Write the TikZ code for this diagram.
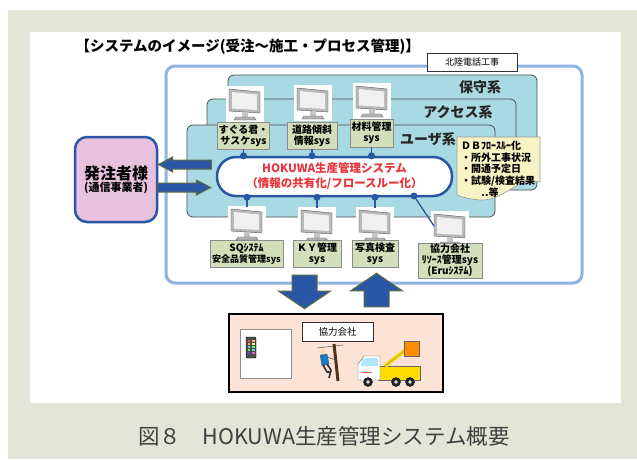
\documentclass[tikz,border=0pt]{standalone}
\usepackage{fontspec}
\setmainfont{Noto Sans CJK JP}
\usetikzlibrary{shapes.arrows}

\definecolor{paper}{HTML}{E3E5D6}
\definecolor{frameblue}{HTML}{8DB4E2}
\definecolor{panelteal}{HTML}{A9D9E2}
\definecolor{labelgreen}{HTML}{D3DEBA}
\definecolor{sysblue}{HTML}{2A57A5}
\definecolor{sysred}{HTML}{E8343A}
\definecolor{notey}{HTML}{F6F4C4}
\definecolor{clientpink}{HTML}{E7C1DD}
\definecolor{arrowolive}{HTML}{5F6B3C}
\definecolor{partnerpeach}{HTML}{FBE3D5}

\tikzset{
  panel/.style={fill=panelteal, draw=black!70, line width=0.8pt, rounded corners=6pt},
  panellabel/.style={font=\bfseries\fontsize{14}{14}\selectfont, text=black!85},
  syslabel/.style={fill=labelgreen, draw=black!45, line width=0.6pt, inner sep=1pt,
    align=center, font=\bfseries\fontsize{10}{11}\selectfont},
  sysdot/.style={circle, fill=sysblue, inner sep=0pt, minimum size=7pt},
  syslink/.style={sysblue, line width=1.3pt},
  bigarrow/.style={single arrow, fill=sysblue, draw=arrowolive, line width=1pt,
    single arrow head indent=0pt},
  % a flat screen on its stand, origin at the top middle
  monitor/.pic={
    \fill[white] (-19,0) rectangle (19,36);
    \filldraw[fill=gray!55, draw=gray!70!black, line width=0.4pt]
      (-16,3) -- (15,6) -- (15,27) -- (-16,25) -- cycle;
    \fill[gray!12] (-13,6) -- (12,8.5) -- (12,24) -- (-13,22.5) -- cycle;
    \fill[gray!45] (-3,26) rectangle (3,31);
    \filldraw[fill=gray!60, draw=gray!70!black, line width=0.3pt]
      (-9,31) -- (9,31) -- (11,34) -- (-11,34) -- cycle;
  }
}

\begin{document}
\begin{tikzpicture}[x=1pt, y=-1pt]
\useasboundingbox (0,0) rectangle (637,459);

% Paper and white panel
\fill[paper] (8,10) rectangle (637,459);
\fill[white] (30,32) rectangle (621,403);

% Heading and caption
\node[anchor=west, font=\bfseries\fontsize{14.5}{15}\selectfont] (heading) at (72,47)
  {【システムのイメージ(受注～施工・プロセス管理)】};
\node[font=\fontsize{21.5}{22}\selectfont, text=black!75] (caption) at (324,436)
  {図８　HOKUWA生産管理システム概要};

% Company frame
\draw[frameblue, line width=3pt, rounded corners=9pt] (166,66) rectangle (582,283);
\node[draw=black!80, fill=white, line width=0.7pt, minimum width=90pt, minimum height=18pt,
  font=\fontsize{9}{9}\selectfont] (company) at (472,62) {北陸電話工事};

% Maintenance, access and user layers
\draw[panel] (228,75) rectangle (537,190);
\draw[panel] (207,99) rectangle (516,181);
\draw[panel] (187,125) rectangle (495,217);
\node[panellabel] (hoshu) at (480,87) {保守系};
\node[panellabel] (access) at (458,112) {アクセス系};
\node[panellabel] (user) at (428,139) {ユーザ系};

% Terminals
\pic at (245,86) {monitor};
\pic at (313,85) {monitor};
\pic at (372,83) {monitor};
\pic at (247,206) {monitor};
\pic at (317,207) {monitor};
\pic at (375,207) {monitor};
\pic at (450,211) {monitor};
\coordinate (m1) at (247,207);
\coordinate (m2) at (317,208);
\coordinate (m3) at (375,208);
\coordinate (m4) at (434,226);

\node[syslabel, minimum width=49pt, minimum height=27pt] (t1) at (243.5,135.5) {すぐる君・\\サスケsys};
\node[syslabel, minimum width=50pt, minimum height=27pt] (t2) at (312,135.5) {道路傾斜\\情報sys};
\node[syslabel, minimum width=43pt, minimum height=28pt] (t3) at (371.5,133) {材料管理\\sys};
\node[syslabel, minimum width=73pt, minimum height=27pt] (b1) at (246.5,253.5)
  {SQｼｽﾃﾑ\\{\fontsize{9}{10}\selectfont 安全品質管理sys}};
\node[syslabel, minimum width=48pt, minimum height=27pt] (b2) at (317,253.5) {ＫＹ管理\\sys};
\node[syslabel, minimum width=46pt, minimum height=27pt] (b3) at (375,253.5) {写真検査\\sys};
\node[syslabel, minimum width=64pt, minimum height=35pt] (b4) at (450,260.5)
  {協力会社\\ﾘｿｰｽ管理sys\\(Eruｼｽﾃﾑ)};

% Production management system
\node[draw=sysblue, fill=white, line width=2.5pt, rounded corners=19pt, minimum width=235pt,
  minimum height=39pt, align=center, text=sysred,
  font=\bfseries\fontsize{11.5}{15}\selectfont] (sys) at (334.5,176.5)
  {HOKUWA生産管理システム\\（情報の共有化/フロースルー化）};

\foreach \n in {t1,t2,t3} {
  \draw[syslink] (\n.south) -- (\n.south |- sys.north)
    node[sysdot] {};
}
\foreach \n in {m1,m2,m3} {
  \draw[syslink] (\n) -- (\n |- sys.south) node[sysdot] {};
}
\node[sysdot] (d4) at (414,196) {};
\draw[syslink] (d4) -- (m4);

% DB note
\filldraw[fill=notey, draw=black!40, line width=0.6pt]
  (457,137) -- (540,137) -- (540,182)
  .. controls (515,177) and (505,201) .. (480,200)
  .. controls (468,199) and (462,197) .. (457,195) -- cycle;
\node[anchor=north west, align=left, inner sep=0pt,
  font=\bfseries\fontsize{10}{11.5}\selectfont] (db) at (461,141)
  {ＤＢﾌﾛｰｽﾙｰ化\\・所外工事状況\\・開通予定日\\・試験/検査結果};
\node[font=\bfseries\fontsize{10}{10}\selectfont] (etc) at (490,193) {..等};

% Ordering customer
\node[draw=sysblue, fill=clientpink, line width=2.5pt, rounded corners=12pt,
  minimum width=82pt, minimum height=85pt, align=center] (client) at (116,179.5)
  {{\bfseries\fontsize{16}{20}\selectfont 発注者様}\\{\bfseries\fontsize{11}{13}\selectfont (通信事業者)}};

\node[bigarrow, shape border rotate=180, minimum height=53pt, inner sep=4pt,
  single arrow head extend=3pt, single arrow tip angle=55, anchor=tip]
  (toclient) at ([xshift=-1pt, yshift=15pt]client.east) {};
\node[bigarrow, minimum height=53pt, inner sep=4pt,
  single arrow head extend=3pt, single arrow tip angle=55, anchor=tail]
  (tosys) at ([xshift=-1pt, yshift=-8pt]client.east) {};

% Partner companies
\node[draw=black, fill=partnerpeach, line width=1.5pt, minimum width=214pt,
  minimum height=78pt] (partner) at (336,353) {};
\draw[black!45, fill=white, line width=0.6pt] (240,329) rectangle (291,378);
\node[draw=black!80, fill=white, line width=0.7pt, minimum width=71pt, minimum height=19pt,
  font=\fontsize{9.5}{9.5}\selectfont] (partnerlabel) at (337.5,331.5) {協力会社};

\node[bigarrow, shape border rotate=270, minimum height=33pt, inner sep=12pt,
  single arrow head extend=13.5pt, single arrow tip angle=112, anchor=tip]
  (down) at ([xshift=-31.5pt, yshift=4pt]partner.north) {};
\node[bigarrow, shape border rotate=90, minimum height=33pt, inner sep=12pt,
  single arrow head extend=13.5pt, single arrow tip angle=112, anchor=tail]
  (up) at ([xshift=40.5pt, yshift=6pt]partner.north) {};

% Handset
\filldraw[fill=black!70, draw=black, line width=0.4pt, rounded corners=1pt] (246,337) rectangle (256,358);
\foreach \r/\c/\d in {0/red/orange, 1/orange/yellow, 2/cyan/green, 3/green/cyan, 4/blue/magenta} {
  \fill[\c!70] (247.5,340+3*\r) rectangle (250,342+3*\r);
  \fill[\d!60] (251.5,340+3*\r) rectangle (254.5,342+3*\r);
}

% Lineman on a pole
\draw[black!60, line width=0.6pt] (317,348) -- (343,345);
\draw[brown!40!black, line width=3pt] (334,344) -- (338,381);
\fill[orange!30] (323,351) circle (2.5);
\filldraw[fill=cyan!60!blue, draw=black!70, line width=0.3pt]
  (320,355) -- (327,354) -- (329,364) -- (322,366) -- cycle;
\draw[black!80, line width=1.6pt] (323,365) -- (327,372) -- (331,372);
\draw[black!80, line width=1.6pt] (327,364) -- (331,370) -- (329,378);
\draw[black!70, line width=0.6pt] (327,357) -- (336,360);

% Bucket truck
\filldraw[fill=yellow!80!orange, draw=black!60, line width=0.4pt] (378,366) rectangle (420,380);
\filldraw[fill=white, draw=black!60, line width=0.4pt]
  (358,380) -- (358,364) -- (364,356) -- (380,356) -- (380,380) -- cycle;
\fill[cyan!30] (362,359) -- (366,358) -- (378,358) -- (378,366) -- (361,366) -- cycle;
\draw[red!70, line width=0.8pt] (361,372) -- (372,372);
\draw[yellow!80!orange, line width=4pt] (385,366) -- (408,348);
\draw[black!50, line width=0.4pt] (385,366) -- (408,348);
\filldraw[fill=orange!90!yellow, draw=black!60, line width=0.4pt] (404,341) rectangle (419,356);
\foreach \x in {368,396,410} {
  \filldraw[fill=black!85, draw=black] (\x,382) circle (4.5);
  \fill[white!80!gray] (\x,382) circle (1.8);
}
\end{tikzpicture}
\end{document}
